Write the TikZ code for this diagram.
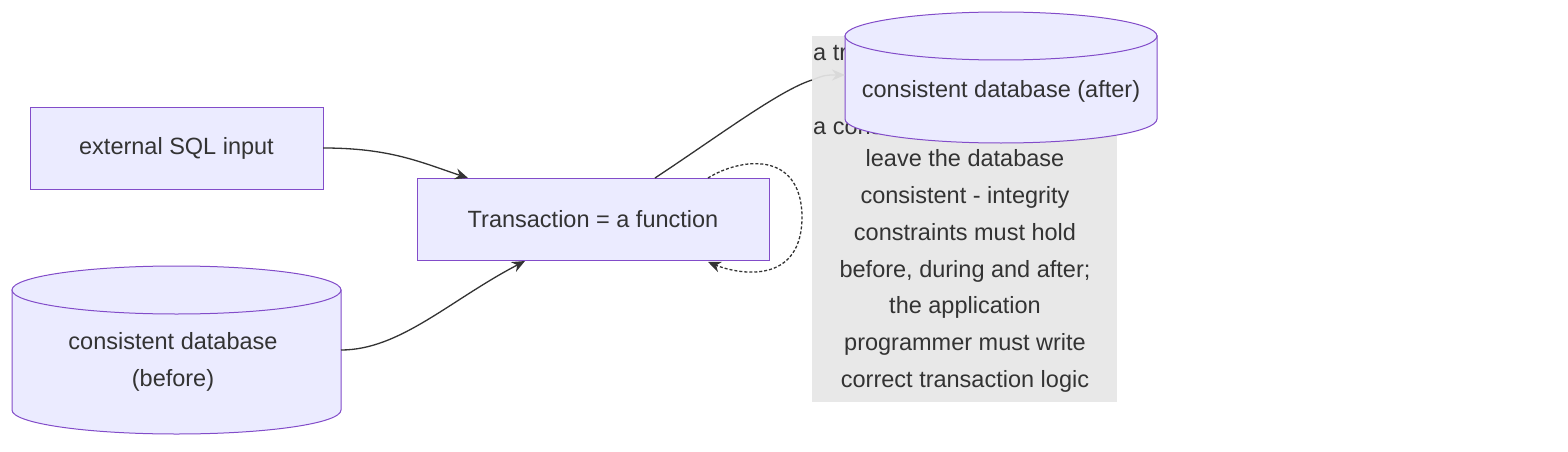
\documentclass[tikz,border=0pt]{standalone}
\usepackage{fontspec}
\setmainfont{Liberation Sans}
\usetikzlibrary{shapes.geometric,arrows.meta}
\begin{document}
\begin{tikzpicture}[x=1pt,y=-1pt,
  box/.style={draw=violet!60!blue!70!white,line width=1pt,fill=blue!8,inner sep=0},
  txt/.style={text=black!80,font=\fontsize{23.5}{36.7}\selectfont},
  edge/.style={draw=black!80,line width=1.3pt,-{Stealth[length=13pt,width=11pt]}}]
\useasboundingbox (0,0) rectangle (1568,452);
\colorlet{bd}{violet!60!blue!70!white}
% label background
\fill[black!9] (812,36) rectangle (1117,402);
\node[txt,anchor=west,inner sep=0] (l1) at (813,52) {a transaction};
\node[txt,anchor=west,inner sep=0] (l2) at (813,126) {a consistent};
\node[txt,align=center] (l3) at (965,271) {leave the database\\consistent - integrity\\constraints must hold\\before, during and after;\\the application\\programmer must write\\correct transaction logic};
% nodes
\node[box,minimum width=293pt,minimum height=82pt] (ext) at (176.5,148) {};
\node[txt] at (ext) {external SQL input};
\node[box,minimum width=352pt,minimum height=82pt] (tr) at (593,219) {};
\node[txt] at (tr) {Transaction = a function};
% before cylinder
\filldraw[fill=blue!8,draw=bd,line width=1pt] (12,290) -- (12,410) arc[start angle=180,end angle=0,x radius=164.5,y radius=24] -- (341,290) -- cycle;
\draw[draw=bd,line width=1pt,fill=blue!8] (176.5,290) ellipse[x radius=164.5,y radius=24];
\node[txt,align=center] (bef) at (173,362) {consistent database\\(before)};
% after cylinder
\filldraw[fill=blue!8,draw=bd,line width=1pt] (845,36) -- (845,119) arc[start angle=180,end angle=0,x radius=156,y radius=24] -- (1157,36) -- cycle;
\draw[draw=bd,line width=1pt,fill=blue!8] (1001,36) ellipse[x radius=156,y radius=24];
\node[txt] (aft) at (1001,91) {consistent database (after)};
% connector endpoints
\coordinate (e1) at (323,148); \coordinate (e2) at (468,178);
\coordinate (b1) at (341,350); \coordinate (b2) at (525,261);
\coordinate (t1) at (655,178); \coordinate (t2) at (812,80); \coordinate (a1) at (845,75);
\coordinate (s1) at (708,178); \coordinate (s2) at (708,262);
\draw[edge] (e1) .. controls (390,148) and (420,162) .. (e2);
\draw[edge] (b1) .. controls (400,350) and (450,300) .. (b2);
\draw[black!80,line width=1.3pt] (t1) .. controls (720,135) and (780,90) .. (t2);
\draw[black!15,line width=1.3pt,-{Stealth[length=13pt,width=11pt]}] (t2) .. controls (825,75) .. (a1);
\draw[black!80,line width=1.3pt,dash pattern=on 3pt off 2pt,-{Stealth[length=13pt,width=11pt]}] (s1) .. controls (740,158) and (800,150) .. (802,215) .. controls (803,285) and (740,275) .. (s2);
\end{tikzpicture}
\end{document}
